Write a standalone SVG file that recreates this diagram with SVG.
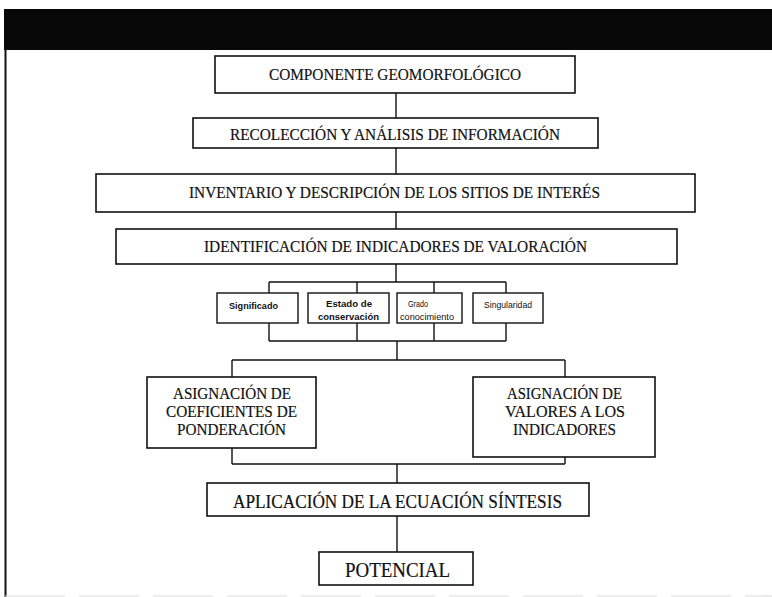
<svg xmlns="http://www.w3.org/2000/svg" width="772" height="597" viewBox="0 0 772 597">
<style>
.box{fill:#fff;stroke:#111;stroke-width:1.6}
.sbox{fill:#fff;stroke:#111;stroke-width:1.4}
.t{font-family:"Liberation Serif","Times New Roman",serif;fill:#111;text-anchor:middle;stroke:#111;stroke-width:0.2}
.s{font-family:"Liberation Sans",Arial,sans-serif;fill:#111;text-anchor:middle}
.c{fill:none;stroke:#111;stroke-width:1.4}
</style>
<rect x="0" y="0" width="772" height="597" fill="#fff"/>
<g id="frame">
<rect x="4" y="9" width="768" height="41" fill="#080808"/>
<line x1="5.5" y1="50" x2="5.5" y2="597" stroke="#111" stroke-width="2"/>
<line x1="5" y1="596" x2="772" y2="596" stroke="#ddd" stroke-width="1.2" stroke-dasharray="60 14"/>
</g>
<g id="connectors">
<path class="c" d="M396 93V118M396 148V174M396 212V229M396 264V282"/>
<path class="c" d="M269 282H506M269 282V293M357 282V293M434 282V293M506 282V293"/>
<path class="c" d="M269 323V341M357 323V341M434 323V341M506 323V341M269 341H506M397 341V360"/>
<path class="c" d="M232 360H565M232 360V377M565 360V377"/>
<path class="c" d="M232 448V464M565 457V464M232 464H565M397 464V483"/>
<path class="c" d="M397 516V552"/>
</g>
<g id="n1"><rect class="box" x="215" y="56" width="360" height="37"/><text class="t" x="395" y="79.5" font-size="17" textLength="252" lengthAdjust="spacingAndGlyphs">COMPONENTE GEOMORFOLÓGICO</text></g>
<g id="n2"><rect class="box" x="193" y="118" width="405" height="30"/><text class="t" x="395" y="139.5" font-size="17" textLength="330" lengthAdjust="spacingAndGlyphs">RECOLECCIÓN Y ANÁLISIS DE INFORMACIÓN</text></g>
<g id="n3"><rect class="box" x="96" y="174" width="599" height="38"/><text class="t" x="394.5" y="197.5" font-size="17" textLength="411" lengthAdjust="spacingAndGlyphs">INVENTARIO Y DESCRIPCIÓN DE LOS SITIOS DE INTERÉS</text></g>
<g id="n4"><rect class="box" x="116" y="229" width="561" height="35"/><text class="t" x="395.5" y="252" font-size="17.5" textLength="383" lengthAdjust="spacingAndGlyphs">IDENTIFICACIÓN DE INDICADORES DE VALORACIÓN</text></g>
<g id="n5"><rect class="sbox" x="217" y="293" width="81" height="30"/><text class="s" x="253.5" y="309" font-size="9" font-weight="bold" textLength="49" lengthAdjust="spacingAndGlyphs">Significado</text></g>
<g id="n6"><rect class="sbox" x="308" y="293" width="81" height="30"/><text class="s" x="349" y="306.5" font-size="9.2" font-weight="bold" textLength="46" lengthAdjust="spacingAndGlyphs">Estado de</text><text class="s" x="348.5" y="320" font-size="9.2" font-weight="bold" textLength="61" lengthAdjust="spacingAndGlyphs">conservación</text></g>
<g id="n7"><rect class="sbox" x="397" y="293" width="65" height="30"/><text class="s" x="418" y="306.5" font-size="8.5" textLength="20" lengthAdjust="spacingAndGlyphs">Grado</text><text class="s" x="427" y="320" font-size="8.5" textLength="54" lengthAdjust="spacingAndGlyphs">conocimiento</text></g>
<g id="n8"><rect class="sbox" x="473" y="293" width="70" height="30"/><text class="s" x="508" y="308" font-size="8.6" textLength="48" lengthAdjust="spacingAndGlyphs">Singularidad</text></g>
<g id="n9"><rect class="box" x="147" y="377" width="169" height="71"/>
<text class="t" x="232" y="399" font-size="17" textLength="118" lengthAdjust="spacingAndGlyphs">ASIGNACIÓN DE</text>
<text class="t" x="231.5" y="417" font-size="17" textLength="131" lengthAdjust="spacingAndGlyphs">COEFICIENTES DE</text>
<text class="t" x="231.5" y="435" font-size="17" textLength="109" lengthAdjust="spacingAndGlyphs">PONDERACIÓN</text></g>
<g id="n10"><rect class="box" x="473" y="377" width="182" height="80"/>
<text class="t" x="564.5" y="399" font-size="17" textLength="115" lengthAdjust="spacingAndGlyphs">ASIGNACIÓN DE</text>
<text class="t" x="565" y="417" font-size="17" textLength="120" lengthAdjust="spacingAndGlyphs">VALORES A LOS</text>
<text class="t" x="564.5" y="435" font-size="17" textLength="103" lengthAdjust="spacingAndGlyphs">INDICADORES</text></g>
<g id="n11"><rect class="box" x="207" y="483" width="382" height="33"/><text class="t" x="397.5" y="507.5" font-size="19" textLength="329" lengthAdjust="spacingAndGlyphs">APLICACIÓN DE LA ECUACIÓN SÍNTESIS</text></g>
<g id="n12"><rect class="box" x="319" y="552" width="154" height="33"/><text class="t" x="397.5" y="576.5" font-size="20" textLength="105" lengthAdjust="spacingAndGlyphs">POTENCIAL</text></g>
</svg>
